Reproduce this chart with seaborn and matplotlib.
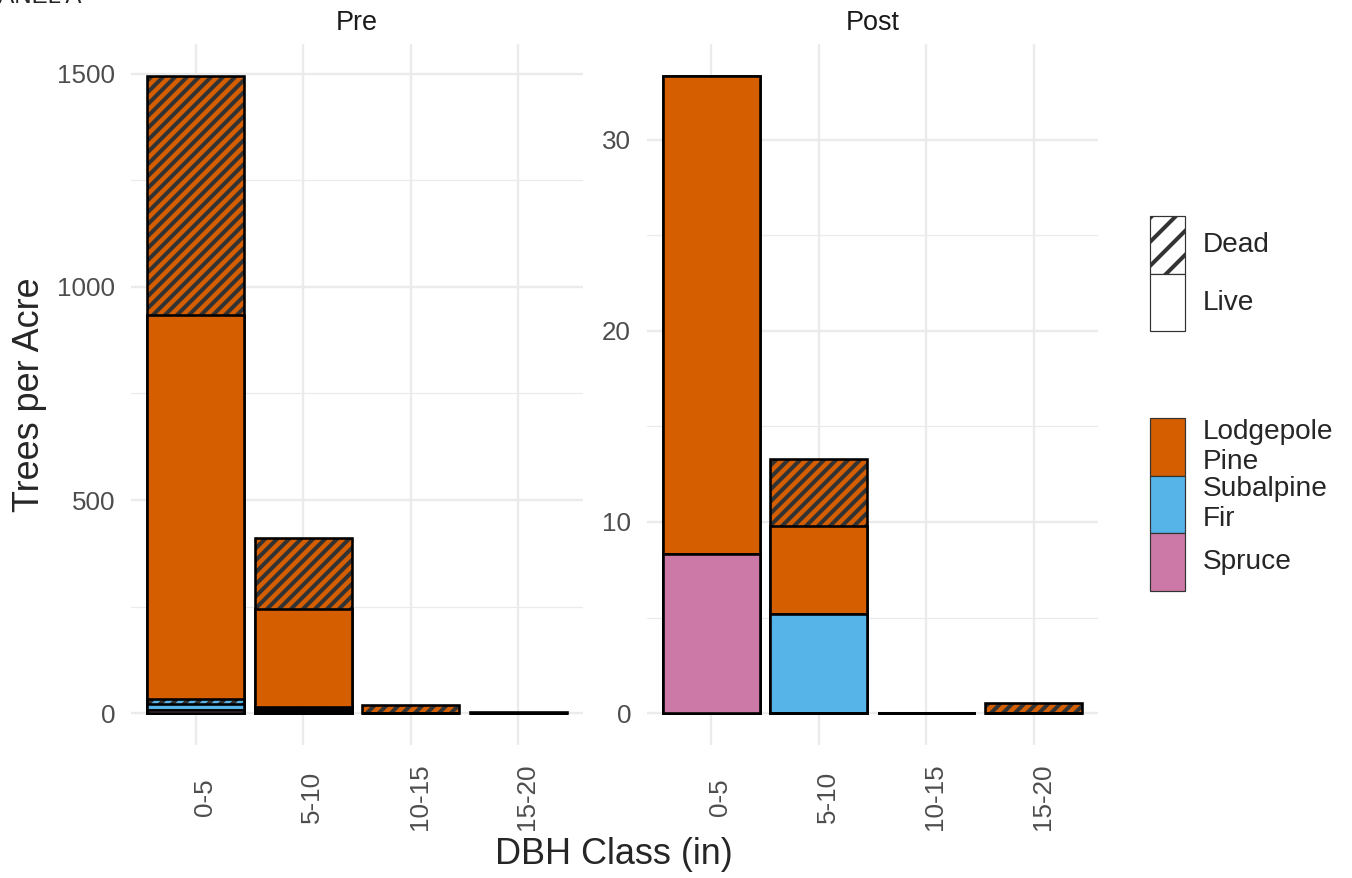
import numpy as np
import pandas as pd
import matplotlib
matplotlib.use("Agg")
import matplotlib.pyplot as plt
import seaborn as sns
from matplotlib.patches import Rectangle
from matplotlib.colors import to_rgba
from matplotlib.ticker import MultipleLocator
from matplotlib.transforms import ScaledTranslation

# ---------------- data ----------------
dbh_classes = ["0-5", "5-10", "10-15", "15-20"]
species = ["Lodgepole Pine", "Subalpine Fir", "Spruce"]
species_labels = ["Lodgepole\nPine", "Subalpine\nFir", "Spruce"]
species_colors = ["#D55E00", "#56B4E9", "#CC79A7"]
status = ["Dead", "Live"]
panels = ["Pre", "Post"]

# Trees per acre by DBH class
pre_lodgepole_live = [901, 230, 0, 0]
pre_lodgepole_dead = [561, 167, 19, 3]
pre_fir_live = [13, 5, 0, 0]
pre_fir_dead = [12, 5, 0, 0]
pre_spruce_live = [8, 4, 0, 0]
pre_spruce_dead = [0, 0, 0, 0]

post_lodgepole_live = [25.0, 4.6, 0, 0]
post_lodgepole_dead = [0, 3.5, 0, 0.55]
post_fir_live = [0, 5.2, 0, 0]
post_fir_dead = [0, 0, 0, 0]
post_spruce_live = [8.33, 0, 0, 0]
post_spruce_dead = [0, 0, 0, 0]

series = {
    ("Pre", "Lodgepole Pine", "Live"): pre_lodgepole_live,
    ("Pre", "Lodgepole Pine", "Dead"): pre_lodgepole_dead,
    ("Pre", "Subalpine Fir", "Live"): pre_fir_live,
    ("Pre", "Subalpine Fir", "Dead"): pre_fir_dead,
    ("Pre", "Spruce", "Live"): pre_spruce_live,
    ("Pre", "Spruce", "Dead"): pre_spruce_dead,
    ("Post", "Lodgepole Pine", "Live"): post_lodgepole_live,
    ("Post", "Lodgepole Pine", "Dead"): post_lodgepole_dead,
    ("Post", "Subalpine Fir", "Live"): post_fir_live,
    ("Post", "Subalpine Fir", "Dead"): post_fir_dead,
    ("Post", "Spruce", "Live"): post_spruce_live,
    ("Post", "Spruce", "Dead"): post_spruce_dead,
}

records = []
for (panel, sp, st), vals in series.items():
    for d, v in zip(dbh_classes, vals):
        records.append(dict(panel=panel, species=sp, status=st, dbh=d, value=v))
df = pd.DataFrame(records)

# stacking order bottom -> top (ggplot stacks first level on top)
stack_order = [(sp, st) for sp in reversed(species) for st in reversed(status)]
df["layer"] = [stack_order.index((s, t)) for s, t in zip(df.species, df.status)]
df["dbh_idx"] = [dbh_classes.index(d) for d in df.dbh]
df = df.sort_values(["panel", "dbh_idx", "layer"])
df["top"] = df.groupby(["panel", "dbh"])["value"].cumsum()

# ---------------- style ----------------
sns.set_style("white")
plt.rcParams["font.family"] = ["Liberation Sans", "DejaVu Sans"]
plt.rcParams["hatch.linewidth"] = 4.0

W, H = 1352, 878
DPI = 72
fig = plt.figure(figsize=(W / DPI, H / DPI), dpi=DPI)

panel_px = {"Pre": (131, 583), "Post": (647, 1098)}
top_px, bot_px = 44, 745
hatch_col = to_rgba("#333333")
color_of = dict(zip(species, species_colors))

for panel in panels:
    l, r = panel_px[panel]
    ax = fig.add_axes([l / W, 1 - bot_px / H, (r - l) / W, (bot_px - top_px) / H])
    sub = df[df.panel == panel]
    for layer in reversed(range(len(stack_order))):
        sp, st = stack_order[layer]
        ldf = sub[sub.layer == layer]
        n0 = len(ax.patches)
        sns.barplot(data=ldf, x="dbh", y="top", order=dbh_classes,
                    color=color_of[sp], saturation=1, width=0.9,
                    edgecolor="black", linewidth=2.6, errorbar=None,
                    hatch="//" if st == "Dead" else None, ax=ax)
        if st == "Dead":
            for p in ax.patches[n0:]:
                p._hatch_color = hatch_col

    ymax = sub.groupby("dbh")["value"].sum().max()
    ax.set_ylim(-0.05 * ymax, 1.05 * ymax)
    ax.set_xlim(-0.6, 3.6)
    if panel == "Pre":
        ax.yaxis.set_major_locator(MultipleLocator(500))
        ax.yaxis.set_minor_locator(MultipleLocator(250))
    else:
        ax.yaxis.set_major_locator(MultipleLocator(10))
        ax.yaxis.set_minor_locator(MultipleLocator(5))
    ax.set_axisbelow(True)
    ax.grid(which="major", axis="both", color="#EBEBEB", lw=2.4)
    ax.grid(which="minor", axis="y", color="#EBEBEB", lw=1.2)
    for s in ax.spines.values():
        s.set_visible(False)
    ax.set_xlabel("")
    ax.set_ylabel("")
    ax.set_xticks(range(len(dbh_classes)))
    ax.set_xticklabels(dbh_classes, rotation=90, va="center")
    ax.tick_params(axis="x", length=0, pad=52, labelsize=26, labelcolor="#4D4D4D")
    ax.tick_params(axis="y", which="both", length=0, pad=16, labelsize=26, labelcolor="#4D4D4D")
    off = ScaledTranslation(9 / DPI, 0, fig.dpi_scale_trans)
    for lab in ax.get_xticklabels():
        lab.set_transform(lab.get_transform() + off)
    ax.set_title(panel, fontsize=27, pad=14, color="#1A1A1A")

# axis titles
fig.text(30 / W, 1 - 394.5 / H, "Trees per Acre", rotation=90, fontsize=36,
         va="center", ha="center")
fig.text(614 / W, 1 - 855 / H, "DBH Class (in)", fontsize=36, va="center", ha="center")
fig.text(-16 / W, 1 - 3 / H, "PANEL A", fontsize=24, va="baseline", ha="left")

# ---------------- legends ----------------
def fig_rect(x, y, w, h, **kw):
    rect = Rectangle((x / W, 1 - (y + h) / H), w / W, h / H,
                     transform=fig.transFigure, figure=fig, **kw)
    fig.patches.append(rect)

kx, kw_ = 1150, 35
status_keys = [(216, 58), (274, 57)]
for (y, h), st in zip(status_keys, status):
    fig_rect(kx, y, kw_, h, facecolor="white", edgecolor="#333333", lw=1.2,
             hatch="/" if st == "Dead" else None)
    fig.text(1203 / W, 1 - (y + h / 2) / H, st, fontsize=28, va="center", ha="left")

species_keys = [(418, 58), (476, 57), (533, 58)]
for (y, h), lab, col in zip(species_keys, species_labels, species_colors):
    fig_rect(kx, y, kw_, h, facecolor=col, edgecolor="#333333", lw=1.2)
    fig.text(1203 / W, 1 - (y + h / 2) / H, lab, fontsize=28, va="center",
             ha="left", linespacing=1.2)

fig.savefig("out.png", dpi=DPI)
